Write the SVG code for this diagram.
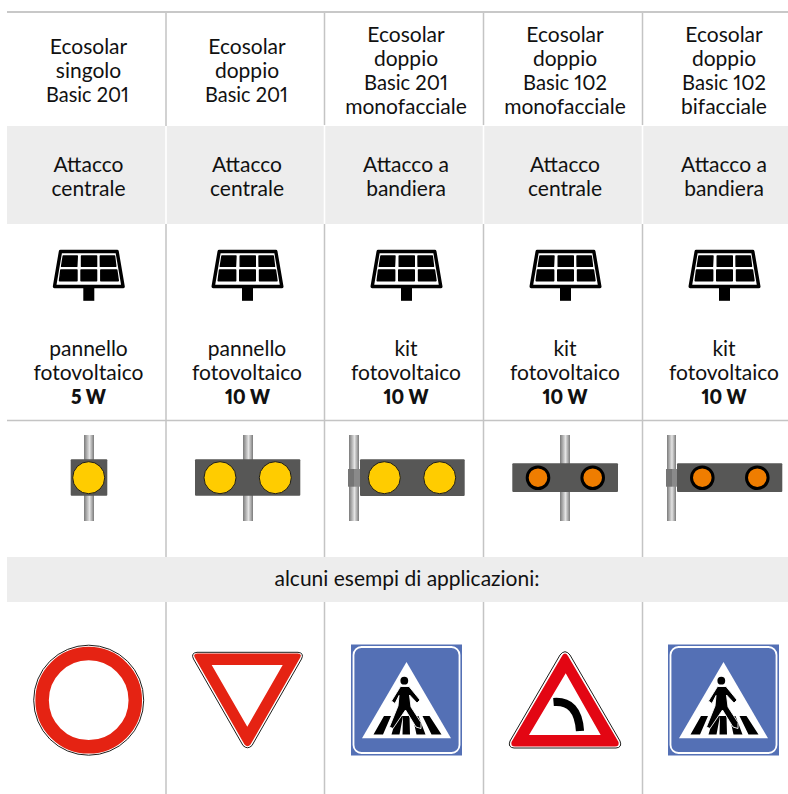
<svg xmlns="http://www.w3.org/2000/svg" xmlns:xlink="http://www.w3.org/1999/xlink" width="788" height="794" viewBox="0 0 788 794">
<style>
text{font-family:"Lato","Open Sans","Liberation Sans",sans-serif;font-size:21px;fill:#111;text-anchor:middle;font-variant-numeric:proportional-nums;font-feature-settings:"pnum" 1}
.b{font-weight:800;font-size:20.500px}
.g{stroke:#c4c4c4;stroke-width:1.500;fill:none}
.t{stroke:#b6b6b6;stroke-width:1.700;fill:none}
.band{fill:#ededed}
.box{fill:#575756}
.y{fill:#fc0;stroke:#1d1d1b;stroke-width:1}
.o{fill:#ef7d00;stroke:#000;stroke-width:3}
.red{fill:#e52313}
.br1{fill:#757575}
.br2{fill:#8a8a8a}
</style>
<defs>
<linearGradient id="pole"><stop offset="0" stop-color="#7a7a7a"/><stop offset=".55" stop-color="#e4e4e4"/><stop offset="1" stop-color="#7a7a7a"/></linearGradient>
<g id="solar">
<path d="M-28.300 -30.500H28.300L34.300 4.500H-34.300Z" fill="#fff" stroke="#000" stroke-width="3.400" stroke-linejoin="round"/>
<g fill="#000" stroke="#000" stroke-width="1.400" stroke-linejoin="round">
<path d="M-25.600 -26H-11.500L-12 -15.600H-27.200Z M-7.300 -26H7.800V-15.600H-7.300Z M11.500 -26H25.800L27 -15.600H11.600Z M-28 -12H-11.800V-1.300H-29.300Z M-7.800 -12H7.800V-1.300H-7.800Z M12 -12H28L29.500 -1.300H12Z"/>
</g>
<rect x="-5.500" y="5.500" width="11" height="13.300" fill="#000"/>
</g>
<rect id="p" x="-5" y="0" width="10" height="86" fill="url(#pole)"/>
<g id="ped">
<rect x="-55.500" y="-55.500" width="111" height="111" fill="#5470b5"/>
<rect x="-53" y="-53" width="106" height="106" rx="8" fill="none" stroke="#fff" stroke-width="1.800"/>
<path d="M0 -38L44.500 38.300H-44.500Z" fill="#fff"/>
<path d="M-33 34.500L-22.500 16H-15.500L-23.500 34.500Z M-15 34.500L-9.500 16H-3.500L-7 34.500Z M-4 34.500L-3.500 16H3L3.500 34.500Z M10 34.500L6 16H12L19 34.500Z M25 34.500L16 16H23L35 34.500Z" fill="#000"/>
<circle cx="-2.200" cy="-19.300" r="3.900" fill="#000"/>
<path d="M-6 -13.500H2.500L13.500 0L10.500 3L3 -5L4.500 7L14.500 22.500L14.500 28.500L9.500 27L-1 10L-13.500 28.500L-17 27L-8.500 6L-7.500 -4.500L-11.500 3.500L-15 1Z" fill="#000" stroke="#fff" stroke-width=".9" stroke-linejoin="round"/>
</g>
</defs>
<rect width="788" height="794" fill="#fff"/>
<g id="bands">
<path class="band" d="M7 126H165.200V224H7Z M166.800 126H323.700V224H166.800Z M325.300 126H482.700V224H325.300Z M484.300 126H641.700V224H484.300Z M643.300 126H788V224H643.300Z"/>
<rect class="band" x="7" y="557" width="781" height="45"/>
</g>
<g id="grid">
<path class="t" d="M7 12H788"/>
<path class="g" d="M7 420.500H788"/>
<path class="g" d="M166 13V126M166 224V557M166 602V794M324.500 13V125M324.500 224V557M324.500 602V794M483.500 13V125M483.500 224V557M483.500 602V794M642.500 13V125M642.500 224V557M642.500 602V794"/>
</g>
<g id="header">
<text x="88.500" y="54">Ecosolar</text><text x="88.500" y="78">singolo</text><text x="87.500" y="102" textLength="83" lengthAdjust="spacingAndGlyphs">Basic 201</text>
<text x="247" y="54">Ecosolar</text><text x="247" y="78">doppio</text><text x="246.500" y="102" textLength="83" lengthAdjust="spacingAndGlyphs">Basic 201</text>
<text x="406" y="42">Ecosolar</text><text x="406" y="66">doppio</text><text x="406" y="90" textLength="84" lengthAdjust="spacingAndGlyphs">Basic 201</text><text x="406" y="114">monofacciale</text>
<text x="565" y="42">Ecosolar</text><text x="565" y="66">doppio</text><text x="565" y="90" textLength="84" lengthAdjust="spacingAndGlyphs">Basic 102</text><text x="565" y="114">monofacciale</text>
<text x="724" y="42">Ecosolar</text><text x="724" y="66">doppio</text><text x="724" y="90" textLength="84" lengthAdjust="spacingAndGlyphs">Basic 102</text><text x="724" y="114">bifacciale</text>
</g>
<g id="attacco">
<text x="88.500" y="172">Attacco</text><text x="88.500" y="196">centrale</text>
<text x="247" y="172">Attacco</text><text x="247" y="196">centrale</text>
<text x="406" y="172">Attacco a</text><text x="406" y="196">bandiera</text>
<text x="565" y="172">Attacco</text><text x="565" y="196">centrale</text>
<text x="724" y="172">Attacco a</text><text x="724" y="196">bandiera</text>
</g>
<g id="icons">
<use xlink:href="#solar" href="#solar" x="88.800" y="282"/>
<use xlink:href="#solar" href="#solar" x="247.500" y="282"/>
<use xlink:href="#solar" href="#solar" x="406.500" y="282"/>
<use xlink:href="#solar" href="#solar" x="565.500" y="282"/>
<use xlink:href="#solar" href="#solar" x="724.500" y="282"/>
</g>
<g id="power">
<text x="88.500" y="356">pannello</text><text x="88.500" y="380">fotovoltaico</text><text class="b" x="88.500" y="404" textLength="35" lengthAdjust="spacingAndGlyphs">5 W</text>
<text x="247" y="356">pannello</text><text x="247" y="380">fotovoltaico</text><text class="b" x="247.500" y="404" textLength="45" lengthAdjust="spacingAndGlyphs">10 W</text>
<text x="406" y="356">kit</text><text x="406" y="380">fotovoltaico</text><text class="b" x="406" y="404" textLength="45" lengthAdjust="spacingAndGlyphs">10 W</text>
<text x="565" y="356">kit</text><text x="565" y="380">fotovoltaico</text><text class="b" x="565" y="404" textLength="45" lengthAdjust="spacingAndGlyphs">10 W</text>
<text x="724" y="356">kit</text><text x="724" y="380">fotovoltaico</text><text class="b" x="724" y="404" textLength="45" lengthAdjust="spacingAndGlyphs">10 W</text>
</g>
<g id="lamp1">
<use xlink:href="#p" href="#p" x="89" y="435"/>
<rect class="box" x="70.700" y="459.300" width="36.600" height="36.500" rx="1"/>
<circle class="y" cx="88.700" cy="477.700" r="16"/>
</g>
<g id="lamp2">
<use xlink:href="#p" href="#p" x="248" y="435"/>
<rect class="box" x="195" y="459.300" width="105.300" height="36.500" rx="1"/>
<circle class="y" cx="220" cy="477.700" r="16"/><circle class="y" cx="275.300" cy="477.700" r="16"/>
</g>
<g id="lamp3">
<use xlink:href="#p" href="#p" x="354" y="435"/>
<rect class="br1" x="348" y="469" width="6" height="17.700"/><rect class="br2" x="354" y="469" width="6" height="17.700"/>
<rect class="box" x="360" y="459.300" width="104.700" height="36.700" rx="1"/>
<circle class="y" cx="384.300" cy="477.700" r="16"/><circle class="y" cx="439.700" cy="477.700" r="16"/>
</g>
<g id="lamp4">
<use xlink:href="#p" href="#p" x="565" y="435"/>
<rect class="box" x="512.300" y="463.300" width="105.700" height="28.700" rx="1"/>
<circle class="o" cx="538" cy="477.700" r="10.800"/><circle class="o" cx="592.700" cy="477.700" r="10.800"/>
</g>
<g id="lamp5">
<use xlink:href="#p" href="#p" transform="translate(671.500 435) scale(.9 1)"/>
<rect class="br1" x="666" y="469" width="6" height="17.700"/><rect class="br2" x="672" y="469" width="5.300" height="17.700"/>
<rect class="box" x="677" y="463.300" width="105.300" height="28.700" rx="1"/>
<circle class="o" cx="702.300" cy="477.700" r="10.800"/><circle class="o" cx="757.300" cy="477.700" r="10.800"/>
</g>
<g id="caption"><text x="407" y="586">alcuni esempi di applicazioni:</text></g>
<g id="sign1">
<circle cx="88.700" cy="700.200" r="55" fill="#fff" stroke="#1d1d1b" stroke-width="1"/>
<circle cx="88.700" cy="700.200" r="46.600" fill="none" stroke="#e52313" stroke-width="13.500"/>
</g>
<g id="sign2">
<path d="M197 652.300H298Q304.500 653 301.500 659L252 745.500Q247.500 750 243 745.500L193.500 659Q190.500 653 197 652.300Z" fill="#fff" stroke="#1d1d1b" stroke-width="1"/>
<path class="red" fill-rule="evenodd" d="M197 653.600H298Q302.500 654 300 658L250.500 744.500Q247.500 748 244.500 744.500L195 658Q192.500 654 197 653.600ZM211.700 665L247.300 726.700L282.700 665Z"/>
</g>
<g id="sign3"><use xlink:href="#ped" href="#ped" x="406.500" y="700"/></g>
<g id="sign4">
<path d="M565 651.700Q568 652 570 655L620 741Q622.500 747.500 616 748H514Q507.500 747.500 510 741L560 655Q562 652 565 651.700Z" fill="#fff" stroke="#1d1d1b" stroke-width="1"/>
<path fill="#e30613" fill-rule="evenodd" d="M565 653.500Q567 653.500 568 656L618.500 742Q619.500 746.500 615 746.500H515Q510.500 746.500 511.500 742L562 656Q563 653.500 565 653.500ZM565.700 673.300L529 735H600.700Z"/>
<path d="M553.500 702Q578 700 580 731" fill="none" stroke="#000" stroke-width="8.200"/>
</g>
<g id="sign5"><use xlink:href="#ped" href="#ped" x="723.500" y="700"/></g>
</svg>
